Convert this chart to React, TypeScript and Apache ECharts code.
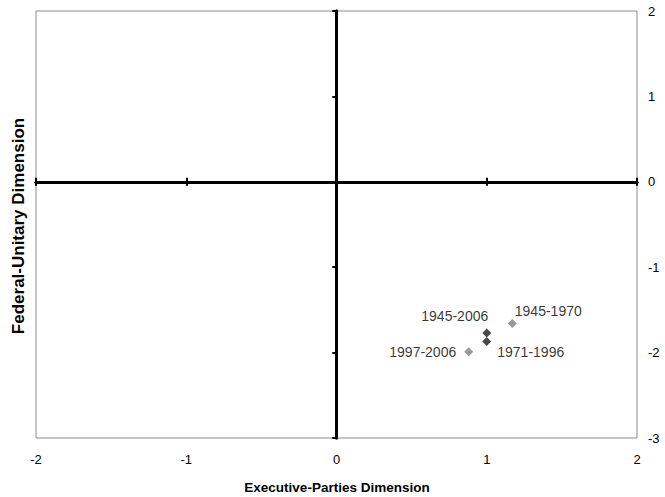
import React, { useEffect, useRef } from "react";
import * as echarts from "echarts";

const periodLabels = ["1945-2006", "1971-1996", "1945-1970", "1997-2006"];
const execParties = [1.0, 1.0, 1.17, 0.88];
const fedUnitary = [-1.77, -1.87, -1.66, -1.99];
const isOverall = [true, true, false, false];

const xTicks = [-2, -1, 0, 1, 2];
const yTicks = [-3, -2, -1, 0, 1, 2];

const labelPlacement: Record<string, { position: string; offset: number[] }> = {
  "1945-2006": { position: "left", offset: [11, -17] },
  "1971-1996": { position: "right", offset: [1, 11] },
  "1945-1970": { position: "right", offset: [-7, -13] },
  "1997-2006": { position: "left", offset: [-3, 0] },
};

export default function App() {
  const ref = useRef<HTMLDivElement>(null);
  useEffect(() => {
    document.body.style.margin = "0";
    const chart = echarts.init(ref.current!, null, { renderer: "svg" });
    const font = "Liberation Sans, Arial, sans-serif";
    const mk = (flag: boolean) =>
      periodLabels
        .map((name, i) => ({ name, i }))
        .filter((d) => isOverall[d.i] === flag)
        .map(({ name, i }) => ({
          name,
          value: [execParties[i], fedUnitary[i]],
          label: {
            show: true,
            formatter: name,
            position: labelPlacement[name].position,
            offset: labelPlacement[name].offset,
            color: "#000",
            fontSize: 14,
            fontFamily: font,
          },
        }));
    const xBase = { type: "value", min: xTicks[0], max: xTicks[xTicks.length - 1], interval: 1, splitLine: { show: false } };
    const yBase = { type: "value", min: yTicks[0], max: yTicks[yTicks.length - 1], interval: 1, splitLine: { show: false } };
    const lineAxis = (inside: boolean) => ({
      axisLine: { show: true, onZero: true, lineStyle: { color: "#000", width: 3 } },
      axisTick: { show: true, inside, length: 4, lineStyle: { color: "#000", width: 2 } },
      axisLabel: { show: false },
    });
    chart.setOption({
      animation: false,
      backgroundColor: "#fff",
      grid: { left: 36, right: 28, top: 11, bottom: 59, show: true, borderColor: "#8c8c8c", borderWidth: 1 },
      xAxis: [
        {
          ...xBase,
          position: "bottom",
          axisLine: { show: false, onZero: false },
          axisTick: { show: false },
          axisLabel: { show: true, margin: 15, color: "#000", fontSize: 13, fontFamily: font },
        },
        { ...xBase, ...lineAxis(false) },
        { ...xBase, ...lineAxis(true) },
      ],
      yAxis: [
        {
          ...yBase,
          position: "right",
          axisLine: { show: false, onZero: false },
          axisTick: { show: false },
          axisLabel: { show: true, margin: 11, color: "#000", fontSize: 13, fontFamily: font },
        },
        { ...yBase, ...lineAxis(false) },
        { ...yBase, ...lineAxis(true) },
      ],
      series: [
        {
          type: "scatter",
          name: "overall",
          symbol: "diamond",
          symbolSize: 9,
          itemStyle: { color: "#1a1a1a" },
          data: mk(true),
          z: 5,
        },
        {
          type: "scatter",
          name: "subperiod",
          symbol: "diamond",
          symbolSize: 9,
          itemStyle: { color: "#808080" },
          data: mk(false),
          z: 5,
        },
      ],
      graphic: [
        {
          type: "text",
          x: 337,
          y: 487,
          style: {
            text: "Executive-Parties Dimension",
            fontSize: 13.5,
            fontWeight: "bold",
            fontFamily: font,
            fill: "#000",
            align: "center",
            verticalAlign: "middle",
          },
        },
        {
          type: "text",
          x: 18,
          y: 226,
          rotation: Math.PI / 2,
          style: {
            text: "Federal-Unitary Dimension",
            fontSize: 17,
            fontWeight: "bold",
            fontFamily: font,
            fill: "#000",
            align: "center",
            verticalAlign: "middle",
          },
        },
      ],
    });
    return () => chart.dispose();
  }, []);
  return <div ref={ref} style={{ width: 665, height: 497 }} />;
}
